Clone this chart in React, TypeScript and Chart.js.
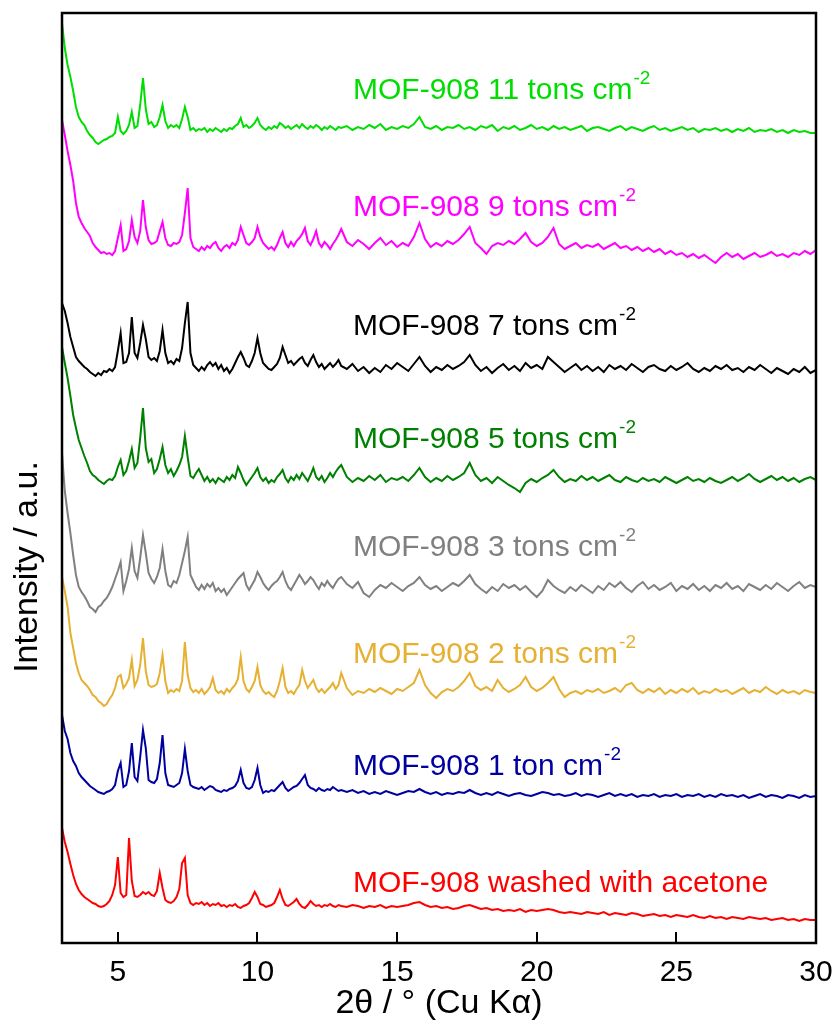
import React, { useEffect, useRef } from 'react';
import { Chart, registerables } from 'chart.js';
Chart.register(...registerables);

// 2θ grid: 0.1° steps from 3 to 13, 0.2° steps from 13.2 to 30
const twoThetaFine: number[] = Array.from({ length: 101 }, (_, i) => +(3 + i * 0.1).toFixed(1));
const twoThetaCoarse: number[] = Array.from({ length: 85 }, (_, i) => +(13.2 + i * 0.2).toFixed(1));
const twoTheta: number[] = [...twoThetaFine, ...twoThetaCoarse];

const xTicks = [5, 10, 15, 20, 25, 30];

// Stacked (offset) intensities, a.u.
const mof11tons = [
  920, 895, 878, 866, 852, 836, 826, 821, 818, 812,
  808, 805, 801, 799, 801, 803, 804, 806, 807, 810,
  826, 812, 809, 812, 818, 831, 815, 817, 838, 865,
  834, 819, 821, 816, 818, 826, 838, 822, 815, 818,
  816, 818, 815, 824, 836, 826, 813, 815, 812, 814,
  813, 815, 811, 814, 812, 815, 813, 811, 814, 812,
  815, 814, 817, 819, 825, 816, 818, 815, 817, 820,
  825, 818, 815, 813, 816, 814, 817, 815, 820, 818,
  815, 817, 814, 816, 818, 815, 819, 816, 814, 817,
  815, 818, 816, 813, 816, 814, 817, 815, 813, 816,
  815,
  817, 813, 816, 814, 818,
  815, 819, 813, 816, 814,
  817, 815, 819, 826, 816,
  814, 817, 813, 816, 815,
  818, 814, 816, 813, 817,
  815, 818, 812, 816, 814,
  817, 813, 815, 818, 814,
  816, 813, 817, 814, 816,
  813, 815, 817, 812, 815,
  816, 814, 812, 815, 817,
  813, 816, 814, 812, 815,
  817, 813, 815, 812, 814,
  816, 813, 815, 811, 814,
  813, 815, 812, 814, 811,
  814, 812, 815, 811, 813,
  812, 814, 811, 813, 810,
  813, 811, 812, 810, 810,
];

const mof9tons = [
  823, 808, 792, 778, 762, 740, 726, 720, 715, 711,
  707, 700, 696, 693, 690, 691, 689, 690, 688, 692,
  705, 718, 692, 694, 702, 723, 706, 700, 712, 743,
  716, 703, 699, 700, 702, 712, 721, 705, 698, 697,
  700, 699, 701, 708, 730, 755, 705, 696, 694, 692,
  696, 693, 697, 695, 699, 701, 695, 692, 696, 698,
  695, 700, 698, 703, 716, 708, 700, 698, 701, 705,
  716, 706, 700, 697, 694, 696, 693, 698, 705, 711,
  700, 696, 701, 697, 702, 705, 709, 715, 702, 698,
  704, 712, 700, 696, 701, 698, 694, 699, 703, 708,
  714,
  701, 697, 703, 699, 694,
  700, 705, 698, 702, 696,
  700, 697, 706, 720, 704,
  696, 700, 697, 702, 699,
  703, 709, 716, 700, 695,
  689, 697, 700, 698, 702,
  699, 704, 710, 701, 697,
  700, 706, 715, 699, 694,
  697, 700, 695, 698, 696,
  699, 694, 697, 700, 695,
  697, 693, 696, 692, 695,
  691, 694, 689, 692, 688,
  690, 686, 689, 685, 688,
  684, 680, 686, 690, 686,
  689, 684, 687, 690, 686,
  688, 691, 687, 689, 686,
  690, 688, 692, 689, 693,
];

const mof7tons = [
  640, 632, 620, 606, 596, 586, 582, 579, 576, 574,
  571, 569, 567, 570, 568, 572, 571, 574, 572, 576,
  592, 610, 580, 581, 590, 626, 590, 585, 600, 618,
  604, 586, 583, 585, 582, 592, 613, 590, 580, 582,
  579, 584, 582, 595, 620, 641, 590, 578, 575, 572,
  576, 573, 578, 581, 577, 580, 574, 578, 572, 575,
  570, 574, 580, 586, 591, 585, 578, 576, 582, 590,
  605, 590, 580, 577, 574, 573, 576, 579, 585, 596,
  588, 580, 582, 578, 581, 584, 586, 580, 577, 583,
  588, 581, 576, 579, 574, 577, 580, 576, 579, 583,
  577,
  574, 579, 572, 576, 570,
  575, 571, 578, 574, 580,
  576, 572, 579, 586, 577,
  571, 576, 573, 578, 574,
  577, 581, 588, 578, 572,
  576, 570, 575, 579, 573,
  577, 572, 580, 575, 578,
  574, 586, 581, 576, 571,
  575, 579, 573, 577, 572,
  576, 571, 578, 574, 577,
  573, 579, 575, 571, 576,
  578, 574, 572, 577, 573,
  576, 580, 574, 571, 575,
  572, 577, 574, 578, 573,
  575, 571, 576, 573, 578,
  574, 570, 575, 572, 569,
  574, 571, 576, 570, 573,
];

const mof5tons = [
  596, 580, 565, 547, 528, 515, 503, 495, 487, 480,
  472, 468, 466, 463, 461, 459, 462, 464, 463, 467,
  476, 483, 468, 472, 482, 494, 475, 480, 505, 535,
  495, 481, 484, 470, 474, 484, 496, 478, 470, 474,
  467, 472, 478, 486, 507, 486, 467, 465, 470, 474,
  468, 462, 466, 461, 464, 460, 465, 463, 461, 466,
  463, 468, 465, 476, 470, 463, 458, 462, 466, 470,
  475, 466, 462, 465, 460, 463, 461, 466, 469, 473,
  465, 461, 466, 463, 468, 464, 470, 466, 462, 468,
  475, 466, 463, 467, 461, 465, 470, 466, 471, 475,
  478,
  466, 461, 465, 462, 467,
  463, 468, 461, 465, 463,
  466, 462, 468, 475, 466,
  461, 465, 462, 467, 463,
  466, 470, 480, 468, 462,
  465, 460, 466, 462, 458,
  455, 451, 460, 464, 461,
  465, 468, 473, 466, 461,
  464, 462, 467, 463, 466,
  462, 465, 468, 463, 461,
  466, 463, 461, 465, 462,
  464, 461, 466, 463, 460,
  463, 466, 462, 464, 461,
  465, 462, 460, 463, 466,
  462, 465, 469, 464, 461,
  464, 467, 463, 466, 462,
  465, 461, 464, 466, 463,
];

const mof3tons = [
  490, 452, 430, 410, 388, 368, 356, 351, 347, 342,
  336, 334, 331, 336, 338, 342, 345, 350, 356, 364,
  372, 381, 352, 362, 374, 395, 372, 365, 385, 408,
  390, 370, 364, 360, 366, 375, 394, 372, 358, 356,
  362, 360, 368, 380, 392, 406, 368, 362, 356, 353,
  358, 354, 359, 356, 360, 352, 355, 351, 354, 348,
  352, 356, 360, 364, 367, 370, 358, 353, 358, 363,
  371, 366, 360, 356, 353, 357, 360, 362, 366, 371,
  362, 356, 353, 358, 363, 368, 364, 359, 362, 366,
  363, 358, 354, 360, 357, 362, 358, 355, 360, 364,
  366,
  359, 355, 361, 350, 346,
  353, 358, 355, 360, 356,
  352, 357, 360, 366, 358,
  354, 357, 352, 356, 360,
  357, 362, 368, 359, 354,
  350, 356, 352, 359, 355,
  358, 353, 357, 351, 346,
  352, 363, 357, 353, 350,
  356, 352, 358, 354, 350,
  357, 353, 360, 356, 361,
  355, 351, 357, 361, 354,
  358, 353, 356, 360, 352,
  357, 354, 359, 353, 357,
  352, 358, 355, 360, 354,
  357, 352, 359, 356, 353,
  358, 354, 360, 356, 352,
  357, 361, 355, 358, 356,
];

const mof2tons = [
  366, 352, 336, 310, 295, 280, 270, 263, 260, 257,
  253, 248, 246, 242, 240, 237, 239, 244, 248, 255,
  266, 268, 255, 259, 265, 283, 257, 263, 278, 305,
  272, 258, 256, 257, 259, 270, 288, 262, 250, 253,
  251, 254, 252, 262, 301, 268, 255, 251, 253, 250,
  254, 249, 252, 256, 265, 253, 250, 252, 249, 254,
  251, 255, 258, 264, 286, 262, 254, 251, 256, 262,
  276, 258, 252, 249, 251, 248, 246, 252, 262, 275,
  256, 250, 252, 249, 254, 258, 273, 262, 255, 259,
  263, 255, 251, 254, 250, 253, 256, 260, 254, 258,
  270,
  255, 248, 252, 250, 254,
  251, 255, 252, 249, 254,
  252, 256, 260, 273, 258,
  250, 245, 251, 254, 252,
  256, 262, 270, 257, 253,
  256, 252, 263, 255, 251,
  254, 258, 266, 256, 252,
  255, 260, 266, 254, 246,
  250, 252, 249, 253, 251,
  254, 250, 252, 255, 251,
  258, 260, 253, 250, 254,
  251, 255, 249, 253, 250,
  254, 251, 255, 249, 252,
  250, 254, 251, 253, 249,
  252, 255, 250, 253, 251,
  256, 252, 249, 253, 250,
  252, 249, 253, 251, 250,
];

const mof1ton = [
  228, 212, 204, 190, 182, 177, 170, 166, 163, 160,
  157, 155, 153, 151, 150, 149, 151, 152, 154, 158,
  172, 180, 156, 158, 172, 200, 166, 162, 186, 213,
  195, 163, 161, 160, 164, 180, 208, 170, 158, 157,
  156, 158, 160, 170, 194, 172, 158, 156, 155, 154,
  156, 153, 155, 157, 156, 153, 152, 151, 153, 152,
  154, 155, 157, 162, 173, 160, 155, 154, 156, 163,
  175, 158, 150, 152, 151, 153, 152, 155, 158, 161,
  155, 152, 154, 156, 157, 160, 164, 168, 158, 155,
  154, 152, 155, 153, 152, 154, 153, 156, 154, 152,
  153,
  151, 153, 150, 152, 149,
  151, 149, 152, 150, 148,
  150, 152, 151, 154, 151,
  149, 151, 148, 150, 149,
  151, 150, 153, 150, 148,
  150, 148, 151, 149, 147,
  149, 150, 148, 147, 149,
  151, 150, 148, 149, 147,
  148, 150, 147, 149, 148,
  146, 148, 150, 147, 149,
  147, 149, 146, 148, 147,
  149, 146, 148, 147, 149,
  146, 148, 147, 149, 146,
  148, 146, 149, 147, 148,
  146, 148, 145, 147, 149,
  146, 148, 147, 145, 148,
  147, 145, 148, 146, 147,
];

const mofAcetone = [
  115, 101, 91, 79, 68, 59, 53, 49, 46, 44,
  42, 40, 39, 37, 36, 37, 39, 42, 48, 58,
  86, 50, 46, 48, 105, 62, 47, 46, 48, 51,
  49, 51, 48, 47, 52, 70, 55, 43, 41, 40,
  42, 46, 54, 80, 85, 48, 40, 38, 40, 39,
  41, 38, 40, 37, 39, 38, 40, 37, 38, 36,
  38, 37, 39, 36, 35, 37, 38, 40, 45, 51,
  46, 39, 38, 36, 37, 38, 40, 46, 53, 44,
  38, 37, 39, 41, 44, 39, 36, 35, 38, 42,
  39, 37, 38, 36, 38, 37, 39, 37, 36, 38,
  37,
  36, 38, 37, 35, 37,
  36, 38, 35, 37, 36,
  37, 38, 40, 41, 38,
  36, 37, 35, 36, 34,
  35, 37, 38, 36, 34,
  35, 33, 34, 32, 33,
  32, 34, 31, 33, 32,
  33, 34, 33, 31, 30,
  31, 30, 29, 31, 30,
  29, 31, 28, 30, 29,
  28, 30, 29, 27, 28,
  29, 27, 28, 26, 28,
  27, 26, 28, 26, 25,
  27, 25, 26, 24, 26,
  25, 24, 26, 25, 24,
  25, 23, 24, 25, 23,
  24, 22, 24, 23, 23,
];

const seriesNames = [
  'MOF-908 11 tons cm',
  'MOF-908 9 tons cm',
  'MOF-908 7 tons cm',
  'MOF-908 5 tons cm',
  'MOF-908 3 tons cm',
  'MOF-908 2 tons cm',
  'MOF-908 1 ton cm',
  'MOF-908 washed with acetone',
];
const seriesSup = ['-2', '-2', '-2', '-2', '-2', '-2', '-2', ''];
const seriesData = [mof11tons, mof9tons, mof7tons, mof5tons, mof3tons, mof2tons, mof1ton, mofAcetone];

// styles / layout (not data)
const seriesColors = ['#00dd00', '#ff00ff', '#000000', '#008000', '#808080', '#e6b032', '#0000a0', '#ff0000'];
const labelX = 13.42; // in 2θ units, left edge of labels
const labelY = [852, 735, 616, 503, 395, 288, 176, 59]; // in a.u., vertical centre

const FONT = '"Liberation Sans", Arial, sans-serif';

const decorPlugin = {
  id: 'decor',
  afterDraw(chart: any) {
    const { ctx, chartArea } = chart;
    const xs = chart.scales.x;
    const ys = chart.scales.y;
    ctx.save();
    // frame
    ctx.strokeStyle = '#000';
    ctx.lineWidth = 2.5;
    ctx.strokeRect(chartArea.left, chartArea.top, chartArea.right - chartArea.left, chartArea.bottom - chartArea.top);
    // inward ticks
    ctx.lineWidth = 2;
    for (const v of xTicks) {
      const px = Math.round(xs.getPixelForValue(v));
      ctx.beginPath();
      ctx.moveTo(px, chartArea.bottom);
      ctx.lineTo(px, chartArea.bottom - 11);
      ctx.stroke();
    }
    // series labels
    const lx = xs.getPixelForValue(labelX);
    for (let i = 0; i < seriesNames.length; i++) {
      const y = ys.getPixelForValue(labelY[i]);
      ctx.fillStyle = seriesColors[i];
      ctx.font = `30px ${FONT}`;
      ctx.textBaseline = 'middle';
      ctx.textAlign = 'left';
      ctx.fillText(seriesNames[i], lx, y);
      if (seriesSup[i]) {
        const w = ctx.measureText(seriesNames[i]).width;
        ctx.font = `19px ${FONT}`;
        ctx.fillText(seriesSup[i], lx + w + 1, y - 12);
      }
    }
    // axis titles
    ctx.fillStyle = '#000';
    ctx.font = `34px ${FONT}`;
    ctx.textAlign = 'center';
    ctx.textBaseline = 'middle';
    ctx.fillText('2θ / ° (Cu Kα)', (chartArea.left + chartArea.right) / 2, 1004);
    ctx.translate(28, 567);
    ctx.rotate(-Math.PI / 2);
    ctx.fillText('Intensity / a.u.', 0, 0);
    ctx.restore();
  },
};

export default function App() {
  const ref = useRef<HTMLCanvasElement>(null);
  useEffect(() => {
    if (!ref.current) return;
    const chart = new Chart(ref.current, {
      type: 'line',
      data: {
        datasets: seriesData.map((arr, i) => ({
          label: seriesNames[i],
          data: arr.map((v, j) => ({ x: twoTheta[j], y: v })),
          borderColor: seriesColors[i],
          borderWidth: 2,
          pointRadius: 0,
          tension: 0,
          fill: false,
        })),
      },
      options: {
        animation: false,
        responsive: true,
        maintainAspectRatio: false,
        layout: { padding: { left: 62, right: 20, top: 13, bottom: 0 } },
        plugins: { legend: { display: false }, tooltip: { enabled: false }, title: { display: false } },
        scales: {
          x: {
            type: 'linear',
            min: 3,
            max: 30,
            afterBuildTicks: (s: any) => { s.ticks = xTicks.map((v) => ({ value: v })); },
            afterFit: (s: any) => { s.height = 86; s.paddingLeft = 0; s.paddingRight = 0; },
            grid: { display: false, drawTicks: false },
            border: { display: false },
            ticks: { color: '#000', font: { family: FONT, size: 30 }, padding: 12, maxRotation: 0, autoSkip: false },
          },
          y: { display: false, min: 0, max: 930 },
        },
      },
      plugins: [decorPlugin],
    });
    return () => chart.destroy();
  }, []);
  return (
    <div style={{ position: 'fixed', left: 0, top: 0, width: 836, height: 1029, background: '#fff' }}>
      <canvas ref={ref} />
    </div>
  );
}
